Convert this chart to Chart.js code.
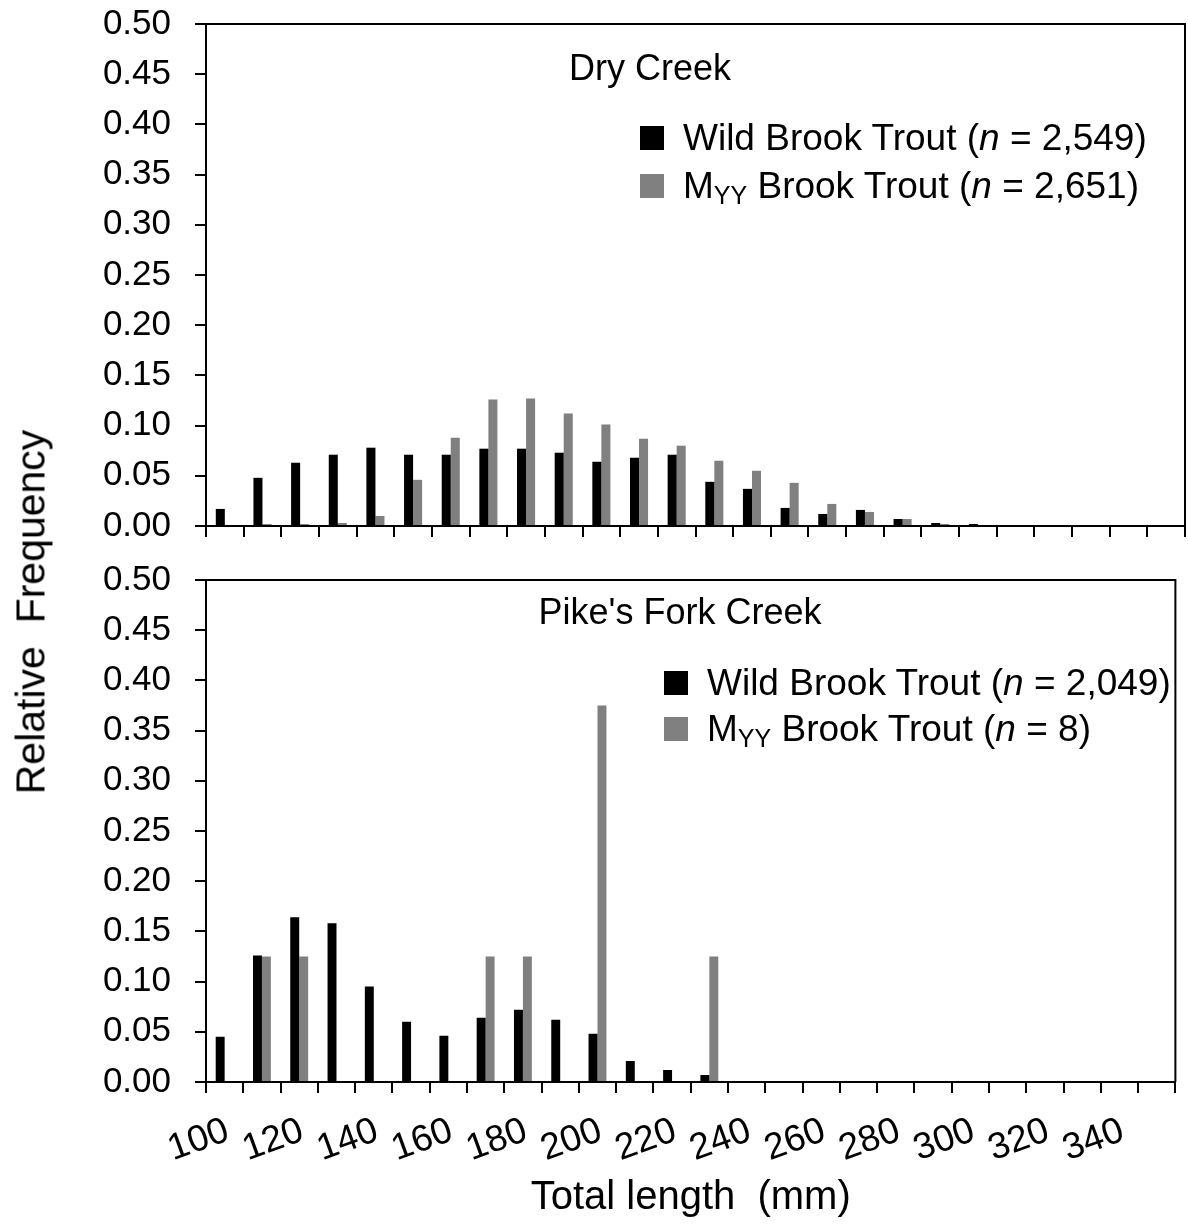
<!DOCTYPE html>
<html>
<head>
<meta charset="utf-8">
<script src="https://cdn.jsdelivr.net/npm/chart.js@4.4.1/dist/chart.umd.min.js"></script>
<style>
  body { margin: 0; background: #fff; font-family: 'Liberation Sans', Arial, sans-serif; color: #000; }
  #wrap { position: relative; width: 1188px; height: 1226px; }
  .panel { position: absolute; left: 0; width: 1188px; }
  #topPanel { top: 0; height: 556px; }
  #bottomPanel { top: 556px; height: 670px; }
  .ytitle { position: absolute; left: 31px; top: 612px; transform: translate(-50%, -50%) rotate(-90deg); font-size: 41px; white-space: pre; }
  .ptitle { position: absolute; font-size: 36px; transform: translate(-50%, -50%); white-space: nowrap; }
  .legend { position: absolute; font-size: 37px; }
  .legend .row { display: flex; align-items: center; }
  .legend .txt { white-space: pre; }
  .legend .box { width: 24px; height: 24px; margin-right: 19px; flex: none; }
  .legend sub { font-size: 25px; vertical-align: -6px; line-height: 0; }
</style>
</head>
<body>
<div id="wrap">
  <div class="panel" id="topPanel"><canvas id="dry"></canvas></div>
  <div class="panel" id="bottomPanel"><canvas id="pike"></canvas></div>
  <div class="ytitle">Relative  Frequency</div>
  <div class="ptitle" style="left:650px; top:68px">Dry Creek</div>
  <div class="ptitle" style="left:680px; top:612px">Pike's Fork Creek</div>
  <div class="legend" id="dryLegend" style="left:640px; top:114px; line-height:48px"></div>
  <div class="legend" id="pikeLegend" style="left:664px; top:660px; line-height:46px"></div>
</div>
<script>
// total length bins (mm)
const lengths = [100, 110, 120, 130, 140, 150, 160, 170, 180, 190, 200, 210, 220,
  230, 240, 250, 260, 270, 280, 290, 300, 310, 320, 330, 340, 350];

// Dry Creek
const dryWild = [0.017, 0.048, 0.063, 0.071, 0.078, 0.071, 0.071, 0.077, 0.077, 0.073, 0.064, 0.068, 0.071,
  0.044, 0.037, 0.018, 0.012, 0.016, 0.007, 0.003, 0.002, 0, 0, 0, 0, 0];
const dryMyy = [0, 0.002, 0.002, 0.003, 0.010, 0.046, 0.088, 0.126, 0.127, 0.112, 0.101, 0.087, 0.080,
  0.065, 0.055, 0.043, 0.022, 0.014, 0.007, 0.002, 0, 0, 0, 0, 0, 0];
const dryN = [2549, 2651];

// Pike's Fork Creek
const pikeWild = [0.045, 0.126, 0.164, 0.158, 0.095, 0.060, 0.046, 0.064, 0.072, 0.062, 0.048, 0.021, 0.012,
  0.007, 0, 0, 0, 0, 0, 0, 0, 0, 0, 0, 0, 0];
const pikeMyy = [0, 0.125, 0.125, 0, 0, 0, 0, 0.125, 0.125, 0, 0.375, 0, 0,
  0.125, 0, 0, 0, 0, 0, 0, 0, 0, 0, 0, 0, 0];
const pikeN = [2049, 8];

const colors = ["#000000", "#808080"];
const font = "'Liberation Sans', Arial, sans-serif";

// draws the top and right sides of the plot frame
const frame = {
  id: "frame",
  afterDraw(chart) {
    const { ctx, chartArea: a } = chart;
    ctx.save();
    ctx.strokeStyle = "#000";
    ctx.lineWidth = 2;
    ctx.beginPath();
    ctx.moveTo(a.left, a.top);
    ctx.lineTo(a.right, a.top);
    ctx.lineTo(a.right, a.bottom);
    ctx.stroke();
    ctx.restore();
  },
};

function makeChart(id, wild, myy, bottomAxis) {
  return new Chart(document.getElementById(id), {
    type: "bar",
    data: {
      labels: lengths.map(String),
      datasets: [
        { label: "Wild Brook Trout", data: wild, backgroundColor: colors[0] },
        { label: "MYY Brook Trout", data: myy, backgroundColor: colors[1] },
      ],
    },
    options: {
      responsive: true,
      maintainAspectRatio: false,
      animation: false,
      layout: { padding: { top: 24, right: 3, bottom: bottomAxis ? 4 : 0, left: 0 } },
      datasets: { bar: { categoryPercentage: 0.48, barPercentage: 1 } },
      plugins: { legend: { display: false }, tooltip: { enabled: false } },
      scales: {
        x: {
          offset: true,
          grid: { offset: true, drawOnChartArea: false, tickLength: 11, color: "#000", lineWidth: 2 },
          border: { color: "#000", width: 2 },
          ticks: {
            display: bottomAxis,
            autoSkip: false,
            minRotation: 20,
            maxRotation: 20,
            padding: 16,
            labelOffset: 3,
            color: "#000",
            font: { family: font, size: 37 },
            callback: (v, i) => (i % 2 === 0 ? lengths[i] : ""),
          },
          title: {
            display: bottomAxis,
            text: "Total length  (mm)",
            color: "#000",
            font: { family: font, size: 40 },
            padding: 0,
          },
          afterFit: (s) => { s.height = bottomAxis ? 140 : 30; },
        },
        y: {
          min: 0,
          max: 0.5,
          grid: { drawOnChartArea: false, tickLength: 11, color: "#000", lineWidth: 2 },
          border: { color: "#000", width: 2 },
          ticks: {
            stepSize: 0.05,
            padding: 24,
            color: "#000",
            font: { family: font, size: 35 },
            callback: (v) => v.toFixed(2),
          },
          afterFit: (s) => {
            s.width = 206;
            s.paddingTop = 0;
            s.paddingBottom = 0;
          },
        },
      },
    },
    plugins: [frame],
  });
}

function fillLegend(id, chart, counts) {
  const el = document.getElementById(id);
  const names = ["Wild Brook Trout", "M<sub>YY</sub> Brook Trout"];
  chart.data.datasets.forEach((ds, i) => {
    const row = document.createElement("div");
    row.className = "row";
    row.innerHTML = '<span class="box" style="background:' + ds.backgroundColor + '"></span>' +
      '<span class="txt">' + names[i] + " (<i>n</i> = " + counts[i].toLocaleString("en-US") + ")</span>";
    el.appendChild(row);
  });
}

const dryChart = makeChart("dry", dryWild, dryMyy, false);
const pikeChart = makeChart("pike", pikeWild, pikeMyy, true);
fillLegend("dryLegend", dryChart, dryN);
fillLegend("pikeLegend", pikeChart, pikeN);
</script>
</body>
</html>
